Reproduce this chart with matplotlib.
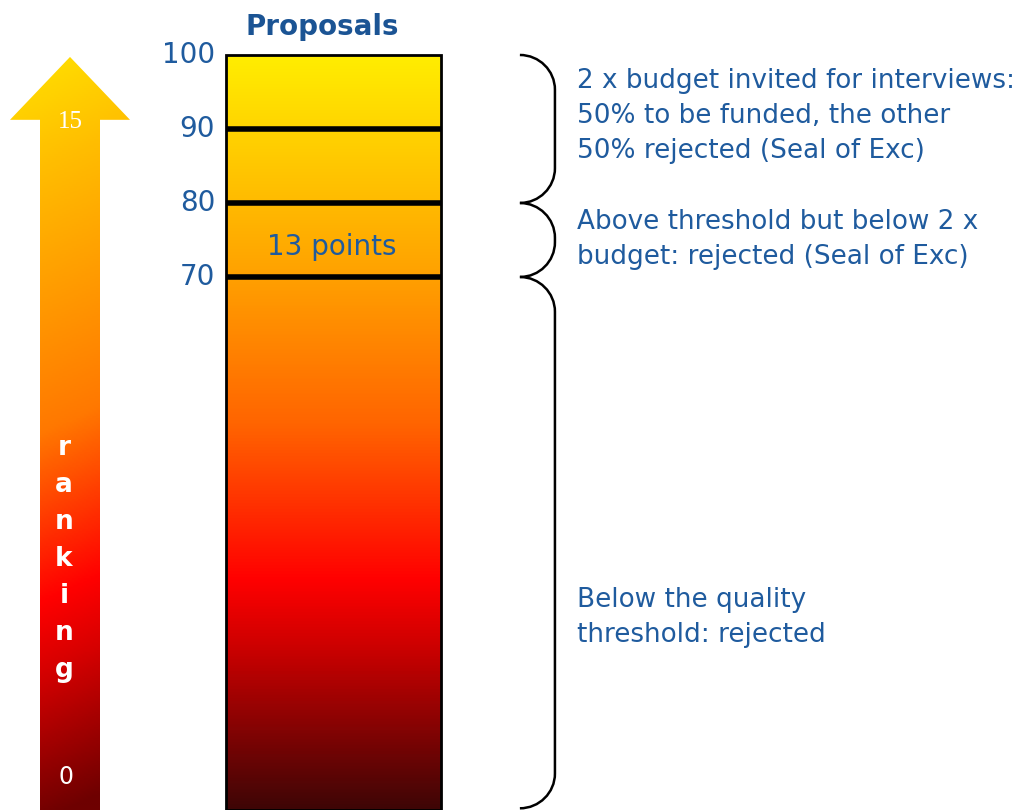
import matplotlib.pyplot as plt
import numpy as np
from matplotlib.colors import LinearSegmentedColormap
from matplotlib.path import Path
from matplotlib.patches import PathPatch

# values
score_ticks = [100, 90, 80, 70]
thresholds = [90, 80, 70]
bar_top = 100
points_label = "13 points"
points_y = 74
band_ranges = [(100, 80), (80, 70), (70, -1.8)]
band_text = [
    ["2 x budget invited for interviews:", "50% to be funded, the other", "50% rejected (Seal of Exc)"],
    ["Above threshold but below 2 x", "budget: rejected (Seal of Exc)"],
    ["Below the quality", "threshold: rejected"],
]
band_text_y = [91.8, 75.1, 24.0]
ranking_ends = [0, 15]
ranking_word = "ranking"

blue = "#1f5b9e"

fig = plt.figure(figsize=(10.2, 8.1), dpi=100)
ax = fig.add_axes([0, 0, 1, 1])
ymin, ymax = -2.03, 107.43

# bar with vertical gradient
bar_cmap = LinearSegmentedColormap.from_list("bar", [
    (0.0, (62/255, 6/255, 6/255)),
    (0.216, (205/255, 0, 0)),
    (0.304, (1, 0, 0)),
    (0.51, (1, 100/255, 0)),
    (0.706, (1, 160/255, 0)),
    (1.0, (1, 238/255, 0)),
])
bar = ax.bar(0, bar_top - ymin, bottom=ymin, width=1, color="none",
             edgecolor="black", lw=2, zorder=3)[0]
grad = np.linspace(0, 1, 512).reshape(-1, 1)
im = ax.imshow(grad, extent=(-0.5, 0.5, ymin, bar_top), origin="lower",
               cmap=bar_cmap, aspect="auto", zorder=2)
im.set_clip_path(bar)

ax.hlines(thresholds, -0.5, 0.5, colors="black", lw=4, zorder=4)

for v in score_ticks:
    ax.text(-0.55, v, str(v), ha="right", va="center", fontsize=20, color=blue)

ax.text(-0.053, 103.8, "Proposals", ha="center", va="center", fontsize=20,
        fontweight="bold", color="#1b5494")
ax.text(-0.01, points_y, points_label, ha="center", va="center", fontsize=20,
        color=blue, zorder=5)

# braces
x0, x1 = 0.867, 1.03
w = x1 - x0
for top, bot in band_ranges:
    r = min(4.7, (top - bot) / 2)
    verts = [(x0, top), (x0 + 0.552 * w, top), (x1, top - 0.448 * r), (x1, top - r),
             (x1, bot + r), (x1, bot + 0.448 * r), (x0 + 0.552 * w, bot), (x0, bot)]
    codes = [Path.MOVETO, Path.CURVE4, Path.CURVE4, Path.CURVE4,
             Path.LINETO, Path.CURVE4, Path.CURVE4, Path.CURVE4]
    ax.add_patch(PathPatch(Path(verts, codes), fc="none", ec="black", lw=1.8))

pitch = 4.73
for lines, yc in zip(band_text, band_text_y):
    n = len(lines)
    for i, line in enumerate(lines):
        ax.text(1.1326, yc + (n - 1) / 2 * pitch - i * pitch, line, ha="left",
                va="center", fontsize=18.9, color=blue)

ax.set_xlim(-1.551, 3.193)
ax.set_ylim(ymin, ymax)
ax.axis("off")

# ranking arrow
ax_a = fig.add_axes([0, 0, 140 / 1020, 1])
ry0, ry1 = -0.756, 17.794
tip = 16.49
arr = ax_a.arrow(70, ry0, 0, tip - ry0, width=60, head_width=120, head_length=1.44,
                 length_includes_head=True, fc="none", ec="none")
arrow_cmap = LinearSegmentedColormap.from_list("arrow", [
    (0.0, (110/255, 0, 0)),
    (0.2, (215/255, 0, 0)),
    (0.292, (1, 0, 0)),
    (0.518, (1, 120/255, 0)),
    (0.876, (1, 190/255, 0)),
    (1.0, (1, 218/255, 0)),
])
yy, xx = np.mgrid[0:1:400j, 0:1:60j]
t = np.clip(yy - 0.07 * (xx - 0.5), 0, 1)
im2 = ax_a.imshow(t, extent=(10, 130, ry0, tip), origin="lower", cmap=arrow_cmap,
                  aspect="auto", vmin=0, vmax=1)
im2.set_clip_path(arr)

ax_a.text(70, ranking_ends[1], str(ranking_ends[1]), ha="center", va="center",
          fontsize=18, color="white", family="Liberation Serif")
ax_a.text(66, ranking_ends[0], str(ranking_ends[0]), ha="center", va="center",
          fontsize=17, color="white", family="DejaVu Sans")
for i, ch in enumerate(ranking_word):
    ax_a.text(64, 7.535 - 0.847 * i, ch, ha="center", va="center", fontsize=19,
              fontweight="bold", color="white")

ax_a.set_xlim(0, 140)
ax_a.set_ylim(ry0, ry1)
ax_a.axis("off")

fig.savefig("out.png", dpi=100)
